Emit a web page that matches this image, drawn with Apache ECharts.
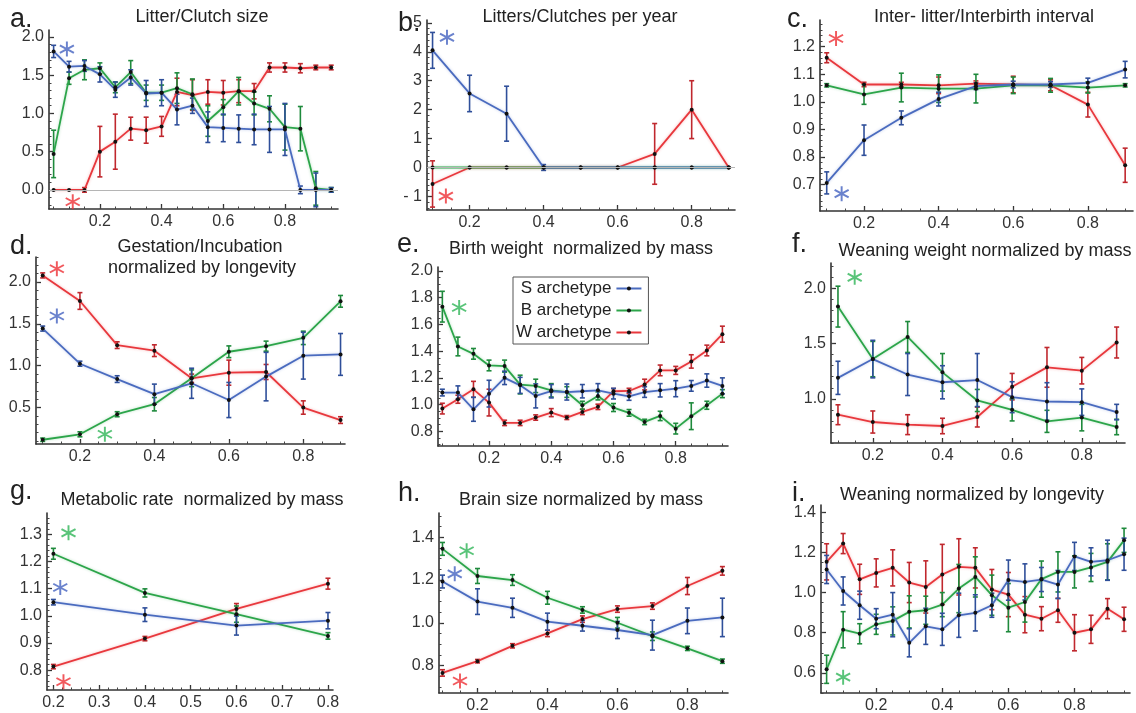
<!DOCTYPE html>
<html>
<head>
<meta charset="utf-8">
<title>Archetype life-history traits</title>
<script src="https://cdn.jsdelivr.net/npm/echarts@6/dist/echarts.min.js"></script>
<style>
  html, body { margin: 0; padding: 0; background: #fff; }
  #chart { width: 1136px; height: 713px; }
</style>
</head>
<body>
<div id="chart"></div>
<script>
// x positions
const x19 = [0.05, 0.10, 0.15, 0.20, 0.25, 0.30, 0.35, 0.40, 0.45, 0.50, 0.55, 0.60, 0.65, 0.70, 0.75, 0.80, 0.85, 0.90, 0.95];
const x9 = [0.1, 0.2, 0.3, 0.4, 0.5, 0.6, 0.7, 0.8, 0.9];
const xG = [0.2, 0.4, 0.6, 0.8];

// tick labels
const xTicks = [0.2, 0.4, 0.6, 0.8];
const xTicksG = [0.2, 0.3, 0.4, 0.5, 0.6, 0.7, 0.8];
const yTicksA = [0, 0.5, 1.0, 1.5, 2.0];
const yTicksB = [-1, 0, 1, 2, 3, 4, 5];
const yTicksC = [0.7, 0.8, 0.9, 1.0, 1.1, 1.2];
const yTicksD = [0.5, 1.0, 1.5, 2.0];
const yTicksE = [0.8, 1.0, 1.2, 1.4, 1.6, 1.8, 2.0];
const yTicksF = [1.0, 1.5, 2.0];
const yTicksG = [0.8, 0.9, 1.0, 1.1, 1.2, 1.3];
const yTicksH = [0.8, 1.0, 1.2, 1.4];
const yTicksI = [0.6, 0.8, 1.0, 1.2, 1.4];

// a. Litter/Clutch size
const aS = [1.81, 1.61, 1.62, 1.51, 1.31, 1.47, 1.26, 1.27, 1.05, 1.10, 0.82, 0.81, 0.80, 0.79, 0.79, 0.79, 0.00, 0.00, 0.00];
const aSErr = [0.08, 0.07, 0.07, 0.10, 0.10, 0.10, 0.17, 0.17, 0.20, 0.10, 0.20, 0.18, 0.18, 0.20, 0.30, 0.34, 0.05, 0.22, 0.03];
const aB = [0.47, 1.46, 1.57, 1.59, 1.34, 1.54, 1.27, 1.27, 1.33, 1.25, 0.90, 1.08, 1.29, 1.13, 1.06, 0.82, 0.80, 0.02, 0.00];
const aBErr = [0.31, 0.08, 0.13, 0.07, 0.07, 0.15, 0.10, 0.10, 0.20, 0.20, 0.20, 0.10, 0.18, 0.15, 0.17, 0.30, 0.29, 0.22, 0.03];
const aW = [0, 0, 0, 0.50, 0.63, 0.80, 0.78, 0.83, 1.28, 1.24, 1.28, 1.27, 1.29, 1.29, 1.60, 1.60, 1.59, 1.60, 1.60];
const aWErr = [0, 0, 0.03, 0.33, 0.36, 0.15, 0.17, 0.13, 0.18, 0.20, 0.16, 0.16, 0.15, 0.10, 0.06, 0.06, 0.06, 0.03, 0.03];
const starsA = [[0.093, 1.84, 'S'], [0.112, -0.156, 'W']];

// b. Litters/Clutches per year
const bS = [4.05, 2.56, 1.86, 0, 0, 0, 0, 0, 0];
const bSErr = [0.62, 0.63, 0.95, 0.1, 0, 0, 0, 0, 0];
const bB = [0, 0, 0, 0, 0, 0, 0, 0, 0];
const bBErr = [0, 0, 0, 0, 0, 0, 0, 0, 0];
const bW = [-0.57, 0, 0, 0, 0, 0, 0.47, 2.0, 0];
const bWErr = [0.8, 0, 0, 0, 0, 0, 1.05, 1.0, 0];
const starsB = [[0.139, 4.5, 'S'], [0.136, -0.99, 'W']];

// c. Inter-litter/Interbirth interval
const cS = [0.706, 0.861, 0.942, 1.01, 1.057, 1.063, 1.063, 1.069, 1.117];
const cSErr = [0.04, 0.055, 0.025, 0.025, 0.012, 0.012, 0.01, 0.017, 0.03];
const cB = [1.06, 1.027, 1.052, 1.048, 1.048, 1.06, 1.06, 1.052, 1.06];
const cBErr = [0.006, 0.036, 0.052, 0.05, 0.052, 0.03, 0.025, 0.02, 0.006];
const cW = [1.16, 1.063, 1.063, 1.06, 1.066, 1.063, 1.06, 0.99, 0.77];
const cWErr = [0.018, 0.008, 0.008, 0.03, 0.01, 0.03, 0.02, 0.045, 0.062];
const starsC = [[0.125, 1.23, 'W'], [0.14, 0.667, 'S']];

// d. Gestation/Incubation normalized by longevity
const dS = [1.444, 1.024, 0.84, 0.66, 0.79, 0.59, 0.87, 1.12, 1.135];
const dSErr = [0.03, 0.03, 0.04, 0.12, 0.18, 0.21, 0.29, 0.28, 0.25];
const dB = [0.115, 0.18, 0.42, 0.54, 0.85, 1.167, 1.234, 1.333, 1.77];
const dBErr = [0.02, 0.03, 0.03, 0.08, 0.1, 0.07, 0.06, 0.08, 0.07];
const dW = [2.08, 1.774, 1.246, 1.18, 0.85, 0.917, 0.925, 0.5, 0.35];
const dWErr = [0.03, 0.1, 0.04, 0.07, 0.05, 0.15, 0.09, 0.08, 0.04];
const starsD = [[0.138, 2.16, 'W'], [0.138, 1.595, 'S'], [0.267, 0.18, 'B']];

// e. Birth weight normalized by mass
const eS = [1.09, 1.09, 0.965, 1.082, 1.2, 1.144, 1.065, 1.1, 1.094, 1.1, 1.107, 1.082, 1.062, 1.094, 1.107, 1.119, 1.14, 1.18, 1.14];
const eSErr = [0.025, 0.05, 0.09, 0.1, 0.05, 0.06, 0.09, 0.05, 0.06, 0.05, 0.05, 0.04, 0.03, 0.04, 0.05, 0.06, 0.04, 0.05, 0.06];
const eB = [1.733, 1.435, 1.38, 1.293, 1.288, 1.15, 1.14, 1.107, 1.094, 0.995, 1.065, 0.978, 0.938, 0.87, 0.915, 0.82, 0.913, 0.995, 1.082];
const eBErr = [0.115, 0.07, 0.04, 0.04, 0.045, 0.07, 0.05, 0.05, 0.04, 0.03, 0.03, 0.03, 0.025, 0.02, 0.035, 0.04, 0.1, 0.03, 0.03];
const eW = [0.97, 1.04, 1.114, 1.015, 0.863, 0.863, 0.903, 0.94, 0.903, 0.945, 0.983, 1.1, 1.102, 1.15, 1.256, 1.256, 1.323, 1.405, 1.527];
const eWErr = [0.04, 0.03, 0.06, 0.1, 0.02, 0.02, 0.02, 0.03, 0.015, 0.02, 0.02, 0.02, 0.02, 0.04, 0.04, 0.03, 0.05, 0.04, 0.06];
const starsE = [[0.104, 1.727, 'B']];

// f. Weaning weight normalized by mass
const fS = [1.19, 1.36, 1.22, 1.15, 1.17, 1.015, 0.976, 0.97, 0.88];
const fSErr = [0.15, 0.17, 0.19, 0.15, 0.24, 0.14, 0.17, 0.12, 0.07];
const fB = [1.835, 1.36, 1.56, 1.24, 0.985, 0.90, 0.796, 0.83, 0.745];
const fBErr = [0.185, 0.16, 0.14, 0.17, 0.1, 0.1, 0.1, 0.12, 0.07];
const fW = [0.856, 0.79, 0.766, 0.754, 0.835, 1.11, 1.285, 1.255, 1.51];
const fWErr = [0.09, 0.1, 0.09, 0.07, 0.09, 0.12, 0.18, 0.12, 0.14];
const starsF = [[0.148, 2.10, 'B']];

// g. Metabolic rate normalized by mass
const gS = [1.05, 1.004, 0.964, 0.982];
const gSErr = [0.01, 0.025, 0.035, 0.03];
const gB = [1.228, 1.084, 1.006, 0.926];
const gBErr = [0.02, 0.015, 0.03, 0.012];
const gW = [0.813, 0.916, 1.025, 1.118];
const gWErr = [0.008, 0.008, 0.02, 0.02];
const starsG = [[0.233, 1.305, 'B'], [0.215, 1.104, 'S'], [0.222, 0.757, 'W']];

// h. Brain size normalized by mass
const hS = [1.193, 1.099, 1.07, 1.005, 0.986, 0.966, 0.942, 1.009, 1.025];
const hSErr = [0.03, 0.06, 0.045, 0.04, 0.025, 0.04, 0.07, 0.06, 0.09];
const hB = [1.346, 1.219, 1.2, 1.117, 1.06, 1.0, 0.937, 0.88, 0.82];
const hBErr = [0.03, 0.035, 0.025, 0.03, 0.015, 0.025, 0.02, 0.01, 0.01];
const hW = [0.765, 0.82, 0.892, 0.95, 1.017, 1.064, 1.078, 1.172, 1.243];
const hWErr = [0.015, 0.008, 0.01, 0.015, 0.015, 0.015, 0.015, 0.04, 0.02];
const starsH = [[0.169, 1.337, 'B'], [0.135, 1.229, 'S'], [0.15, 0.727, 'W']];

// i. Weaning normalized by longevity
const iS = [1.115, 1.008, 0.937, 0.87, 0.89, 0.75, 0.832, 0.817, 0.887, 0.899, 0.937, 1.062, 1.053, 1.065, 1.04, 1.18, 1.153, 1.161, 1.191];
const iSErr = [0.07, 0.07, 0.07, 0.05, 0.11, 0.07, 0.09, 0.08, 0.11, 0.09, 0.06, 0.1, 0.09, 0.06, 0.07, 0.07, 0.07, 0.1, 0.08];
const iB = [0.618, 0.815, 0.795, 0.842, 0.859, 0.904, 0.912, 0.94, 1.02, 1.078, 0.987, 0.925, 0.953, 1.067, 1.103, 1.103, 1.125, 1.153, 1.26];
const iBErr = [0.07, 0.09, 0.05, 0.05, 0.07, 0.08, 0.07, 0.06, 0.12, 0.1, 0.1, 0.12, 0.1, 0.09, 0.1, 0.08, 0.07, 0.09, 0.06];
const iW = [1.153, 1.244, 1.066, 1.098, 1.123, 1.05, 1.028, 1.09, 1.128, 1.123, 1.015, 0.99, 0.89, 0.87, 0.912, 0.80, 0.817, 0.92, 0.867];
const iWErr = [0.09, 0.05, 0.075, 0.07, 0.09, 0.1, 0.13, 0.15, 0.14, 0.1, 0.1, 0.11, 0.09, 0.06, 0.06, 0.09, 0.07, 0.05, 0.06];
const starsI = [[0.10, 0.579, 'B']];

const FONT = '"Liberation Sans", Arial, Helvetica, sans-serif';
const NAMES = { S: 'S archetype', B: 'B archetype', W: 'W archetype' };
const LINE = { S: '#4a6bbf', B: '#2ca54a', W: '#e8383d' };
const ERRC = { S: '#2f4f9a', B: '#1e8a3c', W: '#c0282e' };
const STAR = { S: '#4563c0', B: '#2fb558', W: '#ee3035' };
const STAR_PATH = 'path://M-1.2,-10L1.2,-10L1.2,10L-1.2,10Z' +
  'M-9.26,-3.96L-8.06,-6.04L9.26,3.96L8.06,6.04Z' +
  'M-8.06,6.04L-9.26,3.96L8.06,-6.04L9.26,-3.96Z';

const fix1 = (v) => v.toFixed(1);
const intLabel = (v) => (v < 0 ? '- ' + Math.abs(v) : String(v));

const panels = [
  { grid: [49, 30, 289, 179], xr: [0.035, 0.972], yr: [-0.25, 2.09], xt: xTicks, yt: yTicksA, xm: 0.05, ym: 0.1, yf: fix1,
    xs: x19, S: [aS, aSErr], B: [aB, aBErr], W: [aW, aWErr], stars: starsA, zero: true },
  { grid: [427, 20, 308, 190], xr: [0.085, 0.917], yr: [-1.47, 5.1], xt: xTicks, yt: yTicksB, xm: 0.05, ym: 0.2, yf: intLabel,
    xs: x9, S: [bS, bSErr], B: [bB, bBErr], W: [bW, bWErr], stars: starsB, zero: true },
  { grid: [820, 20, 313, 191], xr: [0.082, 0.921], yr: [0.604, 1.297], xt: xTicks, yt: yTicksC, xm: 0.05, ym: 0.02, yf: fix1,
    xs: x9, S: [cS, cSErr], B: [cB, cBErr], W: [cW, cWErr], stars: starsC },
  { grid: [36, 257, 309, 187], xr: [0.082, 0.912], yr: [0.064, 2.30], xt: xTicks, yt: yTicksD, xm: 0.05, ym: 0.1, yf: fix1,
    xs: x9, S: [dS, dSErr], B: [dB, dBErr], W: [dW, dWErr], stars: starsD },
  { grid: [438, 267, 290, 179], xr: [0.036, 0.968], yr: [0.69, 2.03], xt: xTicks, yt: yTicksE, xm: 0.05, ym: 0.05, yf: fix1,
    xs: x19, S: [eS, eSErr], B: [eB, eBErr], W: [eW, eWErr], stars: starsE },
  { grid: [831, 263, 294, 180], xr: [0.08, 0.924], yr: [0.6, 2.23], xt: xTicks, yt: yTicksF, xm: 0.05, ym: 0.1, yf: fix1,
    xs: x9, S: [fS, fSErr], B: [fB, fBErr], W: [fW, fWErr], stars: starsF },
  { grid: [47, 513, 286, 177], xr: [0.186, 0.811], yr: [0.727, 1.378], xt: xTicksG, yt: yTicksG, xm: 0.02, ym: 0.02, yf: fix1,
    xs: xG, S: [gS, gSErr], B: [gB, gBErr], W: [gW, gWErr], stars: starsG },
  { grid: [439, 513, 289, 180], xr: [0.09, 0.916], yr: [0.671, 1.514], xt: xTicks, yt: yTicksH, xm: 0.05, ym: 0.05, yf: fix1,
    xs: x9, S: [hS, hSErr], B: [hB, hBErr], W: [hW, hWErr], stars: starsH },
  { grid: [821, 505, 309, 188], xr: [0.033, 0.968], yr: [0.5, 1.436], xt: xTicks, yt: yTicksI, xm: 0.05, ym: 0.05, yf: fix1,
    xs: x19, S: [iS, iSErr], B: [iB, iBErr], W: [iW, iWErr], stars: starsI }
];

// panel letters and titles: [text, x, baseline y, size, align]
const labels = [
  ['a.', 10, 28, 27, 'left'], ['b.', 398, 32, 27, 'left'], ['c.', 787, 28, 27, 'left'],
  ['d.', 10, 255, 27, 'left'], ['e.', 397, 253, 27, 'left'], ['f.', 792, 253, 27, 'left'],
  ['g.', 10, 500, 27, 'left'], ['h.', 398, 502, 27, 'left'], ['i.', 792, 502, 27, 'left'],
  ['Litter/Clutch size', 202, 23, 18, 'center'],
  ['Litters/Clutches per year', 580, 23, 18, 'center'],
  ['Inter- litter/Interbirth interval', 984, 23, 18, 'center'],
  ['Gestation/Incubation', 200, 253, 18, 'center'],
  ['normalized by longevity', 202, 274, 18, 'center'],
  ['Birth weight  normalized by mass', 581, 255, 18, 'center'],
  ['Weaning weight normalized by mass', 985, 257, 18, 'center'],
  ['Metabolic rate  normalized by mass', 202, 506, 18, 'center'],
  ['Brain size normalized by mass', 581, 506, 18, 'center'],
  ['Weaning normalized by longevity', 972, 501, 18, 'center']
];

function stepTicks(min, max, step) {
  const out = [];
  for (let k = Math.ceil(min / step - 1e-9); k * step <= max + 1e-9; k++) {
    out.push(+(k * step).toFixed(4));
  }
  return out;
}

function axisPair(dim, gi, range, ticks, minorStep, fmt) {
  const base = {
    type: 'value', gridIndex: gi, min: range[0], max: range[1],
    position: dim === 'x' ? 'bottom' : 'left', splitLine: { show: false }, silent: true
  };
  const main = Object.assign({}, base, {
    axisLine: { show: true, onZero: false, lineStyle: { color: '#333', width: 1.6 } },
    axisTick: { show: true, inside: true, length: 5, customValues: ticks, lineStyle: { color: '#333', width: 1.3 } },
    axisLabel: { show: true, customValues: ticks, formatter: fmt, color: '#333', fontSize: 16, fontFamily: FONT, margin: 5 }
  });
  const minor = Object.assign({}, base, {
    axisLine: { show: false, onZero: false },
    axisTick: { show: true, inside: true, length: 2.5, customValues: stepTicks(range[0], range[1], minorStep),
      lineStyle: { color: '#444', width: 1 } },
    axisLabel: { show: false }
  });
  return [main, minor];
}

function errRender(color) {
  return function (params, api) {
    const x = api.value(0), y = api.value(1), e = api.value(2);
    if (!e) return null;
    const cs = params.coordSys;
    const p1 = api.coord([x, y + e]);
    const p2 = api.coord([x, y - e]);
    const st = { stroke: color, lineWidth: 1.6 };
    const kids = [{ type: 'line', shape: { x1: p1[0], y1: Math.max(p1[1], cs.y), x2: p2[0], y2: Math.min(p2[1], cs.y + cs.height) }, style: st }];
    [p1, p2].forEach((p) => {
      if (p[1] >= cs.y && p[1] <= cs.y + cs.height) {
        kids.push({ type: 'line', shape: { x1: p[0] - 2.5, y1: p[1], x2: p[0] + 2.5, y2: p[1] }, style: st });
      }
    });
    return { type: 'group', children: kids };
  };
}

const grids = [], xAxes = [], yAxes = [], series = [];

panels.forEach((p, i) => {
  grids.push({ left: p.grid[0], top: p.grid[1], width: p.grid[2], height: p.grid[3], containLabel: false, outerBoundsMode: 'none' });
  xAxes.push(...axisPair('x', i, p.xr, p.xt, p.xm, fix1));
  yAxes.push(...axisPair('y', i, p.yr, p.yt, p.ym, p.yf));

  ['W', 'B', 'S'].forEach((k, j) => {
    const vals = p[k][0], errs = p[k][1];
    const line = {
      type: 'line', name: NAMES[k], xAxisIndex: 2 * i, yAxisIndex: 2 * i,
      data: p.xs.map((x, n) => [x, vals[n]]),
      symbol: 'circle', symbolSize: 4, showSymbol: true,
      lineStyle: { color: LINE[k], width: 1.8, shadowColor: LINE[k] + '55', shadowBlur: 3 },
      itemStyle: { color: '#111', borderWidth: 0 },
      emphasis: { disabled: true }, silent: true, z: 2
    };
    if (p.zero && j === 0) {
      line.markLine = {
        silent: true, symbol: 'none', label: { show: false },
        lineStyle: { color: '#b5b5b5', width: 1, type: 'solid' },
        data: [{ yAxis: 0 }]
      };
    }
    series.push(line);
    series.push({
      type: 'custom', name: NAMES[k] + ' error', xAxisIndex: 2 * i, yAxisIndex: 2 * i,
      data: p.xs.map((x, n) => [x, vals[n], errs[n]]),
      encode: { x: 0, y: 1 }, renderItem: errRender(ERRC[k]), silent: true, z: 2
    });
  });

  series.push({
    type: 'scatter', name: 'significance', xAxisIndex: 2 * i, yAxisIndex: 2 * i,
    symbol: STAR_PATH, symbolSize: 15, silent: true, z: 5,
    data: p.stars.map((s) => ({ value: [s[0], s[1]], itemStyle: { color: STAR[s[2]] } }))
  });
});

const chart = echarts.init(document.getElementById('chart'), null, { renderer: 'canvas' });
chart.setOption({
  backgroundColor: '#fff',
  animation: false,
  grid: grids,
  xAxis: xAxes,
  yAxis: yAxes,
  legend: {
    data: ['S archetype', 'B archetype', 'W archetype'],
    orient: 'vertical', left: 513, top: 277, align: 'right',
    itemWidth: 25, itemHeight: 5, itemGap: 5, padding: [3, 6, 3, 3],
    borderColor: '#555', borderWidth: 1, backgroundColor: '#fff',
    selectedMode: false, z: 10,
    textStyle: { fontSize: 17, fontFamily: FONT, color: '#222' }
  },
  graphic: labels.map((t) => ({
    type: 'text', x: t[1], y: t[2] - 0.32 * t[3], silent: true,
    style: { text: t[0], fontSize: t[3], fontFamily: FONT, fill: '#222', align: t[4], verticalAlign: 'middle' }
  })),
  series: series
});
</script>
</body>
</html>
